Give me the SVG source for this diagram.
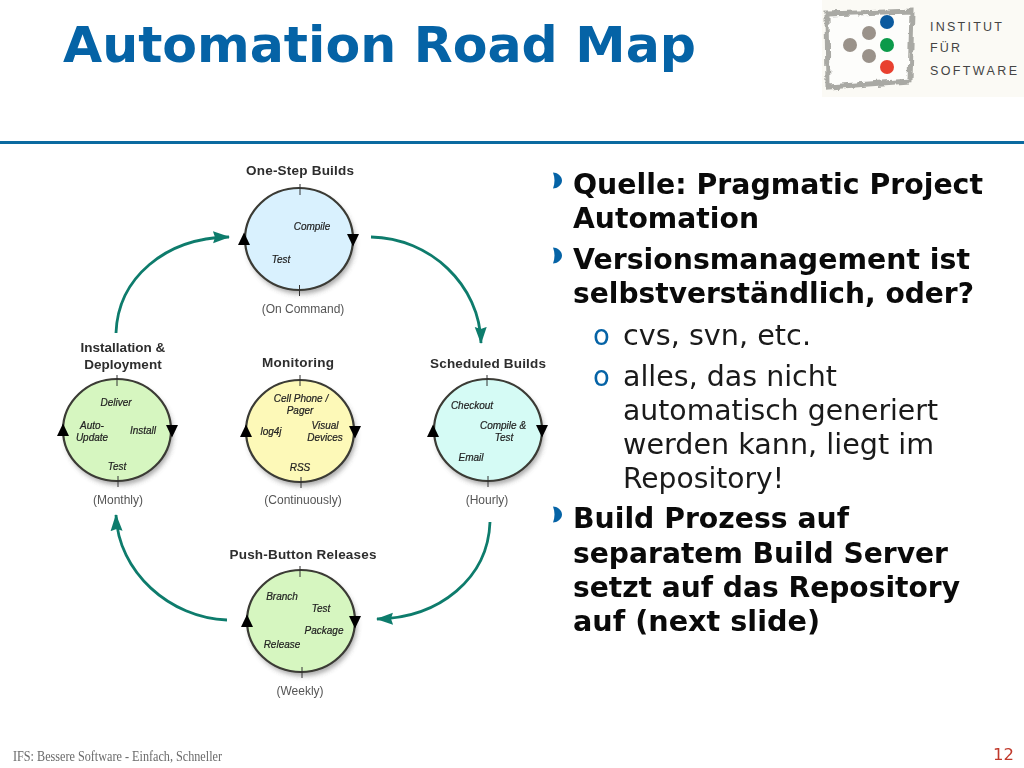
<svg xmlns="http://www.w3.org/2000/svg" width="1024" height="768" viewBox="0 0 1024 768">
<defs>
<filter id="soft" x="-5%" y="-5%" width="110%" height="110%"><feGaussianBlur stdDeviation="0.45"/></filter>
<filter id="shadow" x="-20%" y="-20%" width="140%" height="140%"><feGaussianBlur stdDeviation="2.5"/></filter>
<filter id="rough" x="-8%" y="-8%" width="116%" height="116%"><feTurbulence type="fractalNoise" baseFrequency="0.12" numOctaves="3" seed="4"/><feDisplacementMap in="SourceGraphic" scale="6"/><feGaussianBlur stdDeviation="0.5"/></filter>
<marker id="tealhead" markerUnits="userSpaceOnUse" markerWidth="18" markerHeight="14" refX="16" refY="7" orient="auto"><path d="M0 1L17 7L0 13L2 7Z" fill="#0f7b6c"/></marker>
<path id="up" d="M0 -6.500L6 6H-6Z" fill="#000"/>
<path id="down" d="M-6 -6H6L0 6.500Z" fill="#000"/>
</defs>
<style>
text{font-family:"Liberation Sans",Arial,sans-serif}
.v{font-family:"DejaVu Sans",Verdana,sans-serif}
.title{font-size:49px;font-weight:700;fill:#0563a6}
.b{font-size:27.500px;font-weight:700;fill:#0a0a0a}
.s{font-size:27.500px;fill:#1a1a1a}
.o{font-size:27.500px;fill:#0563a6}
.h{font-size:13.500px;font-weight:700;fill:#2d2d2d;text-anchor:middle}
.p{font-size:12px;fill:#555;text-anchor:middle}
.i{font-size:10px;font-style:italic;fill:#222;text-anchor:middle;stroke:#222;stroke-width:.2}
.ring{stroke:#3a3a34;stroke-width:2.200}
.tick{stroke:#333;stroke-width:1}
.arc{fill:none;stroke:#0f7b6c;stroke-width:2.800;marker-end:url(#tealhead)}
.lg{font-size:12.500px;fill:#444}
</style>
<rect width="1024" height="768" fill="#fff"/>
<text class="v title" x="63" y="62" textLength="633" lengthAdjust="spacingAndGlyphs">Automation Road Map</text>
<rect x="0" y="141" width="1024" height="3" fill="#0a6aa0"/>
<g id="logo">
<rect x="822" y="0" width="202" height="97" fill="#fbfaf5"/>
<path d="M827 14L912 11L910 81L828 87Z" fill="#fdfdfb" stroke="#a9a9a4" stroke-width="5" filter="url(#rough)"/>
<circle cx="887" cy="22" r="7" fill="#0b5a9e"/>
<circle cx="869" cy="33" r="7" fill="#9a928a"/>
<circle cx="850" cy="45" r="7" fill="#9a928a"/>
<circle cx="887" cy="45" r="7" fill="#0c9a4a"/>
<circle cx="869" cy="56" r="7" fill="#9a928a"/>
<circle cx="887" cy="67" r="7" fill="#e8402f"/>
<text class="lg" x="930" y="31" textLength="72">INSTITUT</text>
<text class="lg" x="930" y="52" textLength="30">FÜR</text>
<text class="lg" x="930" y="75" textLength="87">SOFTWARE</text>
</g>
<g filter="url(#soft)">
<g id="connectors">
<path class="arc" d="M116 333C118 278 165 238 229 237"/>
<path class="arc" d="M371 237C430 238 480 285 481 343"/>
<path class="arc" d="M490 522C488 578 440 618 377 619"/>
<path class="arc" d="M227 620C170 618 118 572 116 515"/>
</g>
<g id="node-one-step">
<ellipse cx="301" cy="243" rx="54" ry="51" fill="#555" opacity=".5" filter="url(#shadow)"/>
<ellipse class="ring" cx="299" cy="239" rx="54" ry="51" fill="#d9f1fe"/>
<path class="tick" d="M300 184V195M299.500 285V296"/>
<use href="#up" x="244" y="239"/><use href="#down" x="353" y="240"/>
<text class="h" x="300" y="175" textLength="108">One-Step Builds</text>
<text class="i" x="312" y="230">Compile</text>
<text class="i" x="281" y="263">Test</text>
<text class="p" x="303" y="313">(On Command)</text>
</g>
<g id="node-installation">
<ellipse cx="119" cy="434" rx="54" ry="51" fill="#555" opacity=".5" filter="url(#shadow)"/>
<ellipse class="ring" cx="117" cy="430" rx="54" ry="51" fill="#d6f6c0"/>
<path class="tick" d="M117 375V386M118 476V487"/>
<use href="#up" x="63" y="430"/><use href="#down" x="172" y="431"/>
<text class="h" x="123" y="352">Installation &amp;</text>
<text class="h" x="123" y="369">Deployment</text>
<text class="i" x="116" y="406">Deliver</text>
<text class="i" x="92" y="429">Auto-</text>
<text class="i" x="92" y="441">Update</text>
<text class="i" x="143" y="434">Install</text>
<text class="i" x="117" y="470">Test</text>
<text class="p" x="118" y="504">(Monthly)</text>
</g>
<g id="node-monitoring">
<ellipse cx="302" cy="435" rx="54" ry="51" fill="#555" opacity=".5" filter="url(#shadow)"/>
<ellipse class="ring" cx="300" cy="431" rx="54" ry="51" fill="#fdf9b8"/>
<path class="tick" d="M300 375V386M301 477V488"/>
<use href="#up" x="246" y="431"/><use href="#down" x="355" y="432"/>
<text class="h" x="298" y="367" textLength="72">Monitoring</text>
<text class="i" x="301" y="402">Cell Phone /</text>
<text class="i" x="300" y="414">Pager</text>
<text class="i" x="271" y="435">log4j</text>
<text class="i" x="325" y="429">Visual</text>
<text class="i" x="325" y="441">Devices</text>
<text class="i" x="300" y="471">RSS</text>
<text class="p" x="303" y="504">(Continuously)</text>
</g>
<g id="node-scheduled">
<ellipse cx="490" cy="434" rx="54" ry="51" fill="#555" opacity=".5" filter="url(#shadow)"/>
<ellipse class="ring" cx="488" cy="430" rx="54" ry="51" fill="#d5fbf5"/>
<path class="tick" d="M487 375V386M488 476V487"/>
<use href="#up" x="433" y="431"/><use href="#down" x="542" y="431"/>
<text class="h" x="488" y="368" textLength="116">Scheduled Builds</text>
<text class="i" x="472" y="409">Checkout</text>
<text class="i" x="503" y="429">Compile &amp;</text>
<text class="i" x="504" y="441">Test</text>
<text class="i" x="471" y="461">Email</text>
<text class="p" x="487" y="504">(Hourly)</text>
</g>
<g id="node-push-button">
<ellipse cx="303" cy="625" rx="54" ry="51" fill="#555" opacity=".5" filter="url(#shadow)"/>
<ellipse class="ring" cx="301" cy="621" rx="54" ry="51" fill="#d6f6c0"/>
<path class="tick" d="M300 566V577M302 667V678"/>
<use href="#up" x="247" y="621"/><use href="#down" x="355" y="622"/>
<text class="h" x="303" y="559" textLength="147">Push-Button Releases</text>
<text class="i" x="282" y="600">Branch</text>
<text class="i" x="321" y="612">Test</text>
<text class="i" x="324" y="634">Package</text>
<text class="i" x="282" y="648">Release</text>
<text class="p" x="300" y="695">(Weekly)</text>
</g>
</g>
<g id="bullets">
<path d="M553 172.500C557 172.500 562 176 562 180.500C562 185 557 188.500 553 188.500C555 183 555 178 553 172.500Z" fill="#0563a6"/>
<path d="M553 247.500C557 247.500 562 251 562 255.500C562 260 557 263.500 553 263.500C555 258 555 253 553 247.500Z" fill="#0563a6"/>
<path d="M553 506.500C557 506.500 562 510 562 514.500C562 519 557 522.500 553 522.500C555 517 555 512 553 506.500Z" fill="#0563a6"/>
</g>
<g>
<text class="v b" x="573" y="194" textLength="410" lengthAdjust="spacingAndGlyphs">Quelle: Pragmatic Project</text>
<text class="v b" x="573" y="228" textLength="186" lengthAdjust="spacingAndGlyphs">Automation</text>
<text class="v b" x="573" y="269" textLength="397" lengthAdjust="spacingAndGlyphs">Versionsmanagement ist</text>
<text class="v b" x="573" y="303" textLength="401" lengthAdjust="spacingAndGlyphs">selbstverständlich, oder?</text>
<text class="v o" x="593" y="345">o</text>
<text class="v s" x="623" y="345" textLength="188" lengthAdjust="spacingAndGlyphs">cvs, svn, etc.</text>
<text class="v o" x="593" y="386">o</text>
<text class="v s" x="623" y="386" textLength="214" lengthAdjust="spacingAndGlyphs">alles, das nicht</text>
<text class="v s" x="623" y="420" textLength="315" lengthAdjust="spacingAndGlyphs">automatisch generiert</text>
<text class="v s" x="623" y="454" textLength="311" lengthAdjust="spacingAndGlyphs">werden kann, liegt im</text>
<text class="v s" x="623" y="488" textLength="161" lengthAdjust="spacingAndGlyphs">Repository!</text>
<text class="v b" x="573" y="528" textLength="276" lengthAdjust="spacingAndGlyphs">Build Prozess auf</text>
<text class="v b" x="573" y="563" textLength="375" lengthAdjust="spacingAndGlyphs">separatem Build Server</text>
<text class="v b" x="573" y="597" textLength="387" lengthAdjust="spacingAndGlyphs">setzt auf das Repository</text>
<text class="v b" x="573" y="631" textLength="247" lengthAdjust="spacingAndGlyphs">auf (next slide)</text>
</g>
<text x="13" y="761" font-size="14.500" fill="#6a6a6a" textLength="209" lengthAdjust="spacingAndGlyphs" style="font-family:'Liberation Serif',serif">IFS: Bessere Software - Einfach, Schneller</text>
<text x="1014" y="760" font-size="16.500" text-anchor="end" fill="#c0392b" class="v">12</text>
</svg>
